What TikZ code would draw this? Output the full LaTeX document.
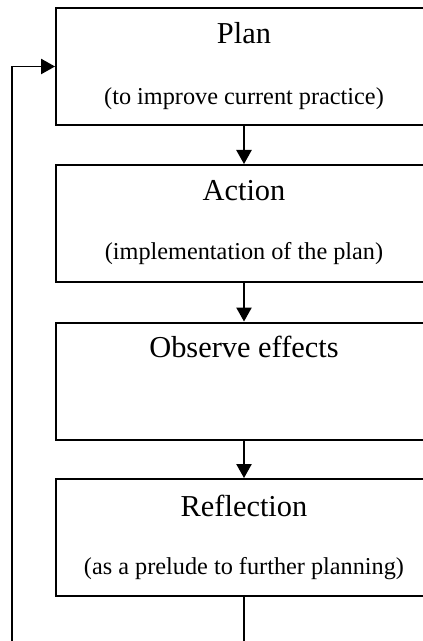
\documentclass[tikz,border=0pt]{standalone}
\usepackage{fontspec}
\setmainfont{Liberation Serif}
\usetikzlibrary{arrows.meta,calc}

\tikzset{
  stage/.style={draw, line width=1.5pt, rectangle, inner sep=0pt,
    minimum width=282pt, minimum height=87.75pt},
  heading/.style={anchor=base, inner sep=0pt, font=\fontsize{22.8}{27}\selectfont},
  subheading/.style={anchor=base, inner sep=0pt, font=\fontsize{18.2}{22}\selectfont},
  flow/.style={line width=1pt, -{Triangle[width=11.5pt,length=10.5pt]}},
  link/.style={line width=1pt}
}

\begin{document}
\begin{tikzpicture}[x=0.75pt, y=-0.75pt]
  \useasboundingbox (0,0) rectangle (423,641);
  \clip (0,0) rectangle (423,641);

  % the four stages of the cycle
  \node[stage] (plan)    at (244,66.5)  {};
  \node[stage] (action)  at (244,223.5) {};
  \node[stage] (observe) at (244,381)   {};
  \node[stage] (reflect) at (244,537.5) {};

  % stage texts
  \node[heading]    (planT)    at ($(plan.north)+(0,37)$)    {Plan};
  \node[subheading] (planS)    at ($(plan.north)+(0,98)$)    {(to improve current practice)};
  \node[heading]    (actionT)  at ($(action.north)+(0,37)$)  {Action};
  \node[subheading] (actionS)  at ($(action.north)+(0,95)$)  {(implementation of the plan)};
  \node[heading]    (observeT) at ($(observe.north)+(0,36)$) {Observe effects};
  \node[heading]    (reflectT) at ($(reflect.north)+(0,38)$) {Reflection};
  \node[subheading] (reflectS) at ($(reflect.north)+(0,96)$) {(as a prelude to further planning)};

  % downward flow between stages
  \draw[flow] (plan.south) -- (action.north);
  \draw[flow] (action.south) -- (observe.north);
  \draw[flow] (observe.south) -- (reflect.north);

  % feedback loop back to planning
  \coordinate (loopR) at (244,660);
  \coordinate (loopL) at (12,660);
  \draw[link] (reflect.south) -- (loopR);
  \draw[flow] (loopL) |- (plan.west);
\end{tikzpicture}
\end{document}
